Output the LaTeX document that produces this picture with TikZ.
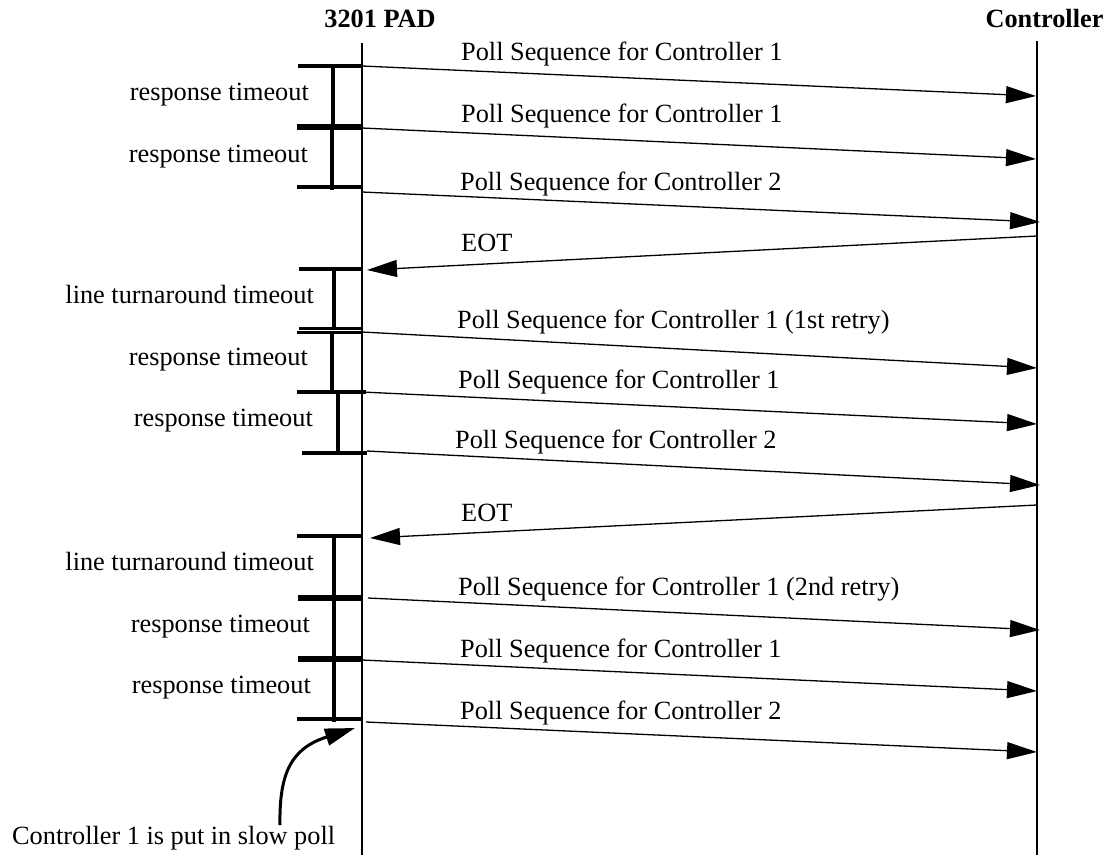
\documentclass[tikz,border=0pt]{standalone}
\usepackage{fontspec}
\setmainfont{Liberation Serif}
\usetikzlibrary{arrows.meta}
\begin{document}
\begin{tikzpicture}[x=1pt,y=-1pt,
  txt/.style={inner sep=0pt, font=\fontsize{26.3}{31}\selectfont},
  head/.style={inner sep=0pt, font=\fontsize{26.3}{31}\selectfont\bfseries, anchor=base},
  lifeline/.style={line width=2.6pt},
  msg/.style={line width=1.3pt, -{Triangle[length=30pt,width=17pt]}},
  tick/.style={line width=3.4pt},
  thicktick/.style={line width=6pt},
  dbltick/.style={line width=2.8pt},
  bar/.style={line width=4pt},
  lbl/.style={txt, anchor=base west},
  tmo/.style={txt, anchor=base east},
  pointer/.style={line width=3pt, -{Triangle[length=30pt,width=17pt]}},
]
\useasboundingbox (0,0) rectangle (1117,855);

% participants
\node[head] (pad) at (380,27) {3201 PAD};
\node[head] (ctl) at (1044.5,27) {Controller};
\coordinate (padtop) at (362,43);
\coordinate (padbot) at (362,855);
\coordinate (ctltop) at (1037,41);
\coordinate (ctlbot) at (1037,855);
\draw[lifeline] (padtop) -- (padbot);
\draw[lifeline] (ctltop) -- (ctlbot);

% timeout brackets, first poll cycle
\draw[tick] (298,66) -- (362,66);
\draw[thicktick] (297,127) -- (362,127);
\draw[tick] (297,187) -- (362,187);
\draw[bar] (333,66) -- (333,127);
\draw[bar] (332,127) -- (332,190);

% timeout brackets, second poll cycle
\draw[tick] (299,269) -- (363,269);
\draw[dbltick] (299,328.3) -- (363,328.3);
\draw[dbltick] (297,332.3) -- (361,332.3);
\draw[tick] (297,392) -- (366,392);
\draw[tick] (302,453) -- (367,453);
\draw[bar] (334,269) -- (334,330);
\draw[bar] (332,332) -- (332,394);
\draw[bar] (338,392) -- (338,455);

% timeout brackets, third poll cycle
\draw[tick] (297,536) -- (363,536);
\draw[thicktick] (298,598) -- (363,598);
\draw[thicktick] (298,659) -- (363,659);
\draw[tick] (297,719) -- (363,719);
\draw[bar] (334,536) -- (334,722);

% timeout labels
\node[tmo] (t1) at (309,100) {response timeout};
\node[tmo] (t2) at (308,162) {response timeout};
\node[tmo] (t3) at (314,303) {line turnaround timeout};
\node[tmo] (t4) at (308,365) {response timeout};
\node[tmo] (t5) at (313,426) {response timeout};
\node[tmo] (t6) at (314,570) {line turnaround timeout};
\node[tmo] (t7) at (310,632) {response timeout};
\node[tmo] (t8) at (311,693) {response timeout};

% message end points on the lifelines
\coordinate (p1) at (362,66);   \coordinate (c1) at (1036,96);
\coordinate (p2) at (362,128);  \coordinate (c2) at (1036,159);
\coordinate (p3) at (362,192);  \coordinate (c3) at (1040,222);
\coordinate (c4) at (1037,236); \coordinate (p4) at (367,270);
\coordinate (p5) at (362,332);  \coordinate (c5) at (1037,368);
\coordinate (p6) at (362,392);  \coordinate (c6) at (1037,424);
\coordinate (p7) at (367,451);  \coordinate (c7) at (1040,485);
\coordinate (c8) at (1037,505); \coordinate (p8) at (370,538);
\coordinate (p9) at (368,598);  \coordinate (c9) at (1040,630);
\coordinate (p10) at (362,660); \coordinate (c10) at (1037,691);
\coordinate (p11) at (366,722); \coordinate (c11) at (1037,752);

% messages
\draw[msg] (p1) -- (c1);
\draw[msg] (p2) -- (c2);
\draw[msg] (p3) -- (c3);
\draw[msg] (c4) -- (p4);
\draw[msg] (p5) -- (c5);
\draw[msg] (p6) -- (c6);
\draw[msg] (p7) -- (c7);
\draw[msg] (c8) -- (p8);
\draw[msg] (p9) -- (c9);
\draw[msg] (p10) -- (c10);
\draw[msg] (p11) -- (c11);

% message labels
\node[lbl] (m1) at (461,60) {Poll Sequence for Controller 1};
\node[lbl] (m2) at (461,122) {Poll Sequence for Controller 1};
\node[lbl] (m3) at (460,190) {Poll Sequence for Controller 2};
\node[lbl] (m4) at (461,251) {EOT};
\node[lbl] (m5) at (457,328) {Poll Sequence for Controller 1 (1st retry)};
\node[lbl] (m6) at (458,388) {Poll Sequence for Controller 1};
\node[lbl] (m7) at (455,448) {Poll Sequence for Controller 2};
\node[lbl] (m8) at (461,521) {EOT};
\node[lbl] (m9) at (458,595) {Poll Sequence for Controller 1 (2nd retry)};
\node[lbl] (m10) at (460,657) {Poll Sequence for Controller 1};
\node[lbl] (m11) at (460,719) {Poll Sequence for Controller 2};

% slow-poll note with curved pointer
\node[lbl] (note) at (12,844) {Controller 1 is put in slow poll};
\coordinate (notetop) at (280,825);
\coordinate (slowtip) at (355,728);
\draw[pointer] (notetop) .. controls (279,772) and (292,748) .. (slowtip);
\end{tikzpicture}
\end{document}
